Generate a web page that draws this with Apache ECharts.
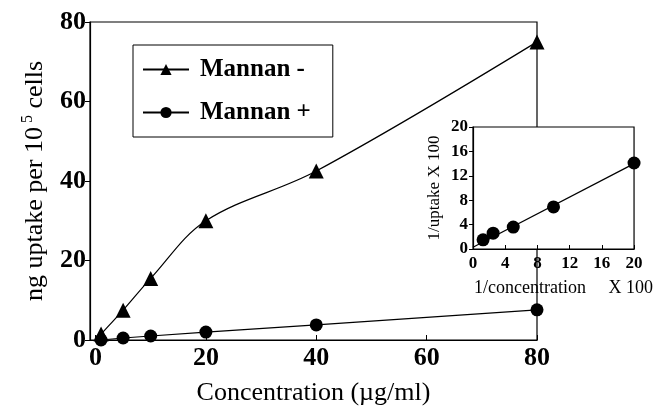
<!DOCTYPE html>
<html>
<head>
<meta charset="utf-8">
<script src="https://cdn.jsdelivr.net/npm/echarts@6/dist/echarts.min.js"></script>
<style>
  html, body { margin: 0; padding: 0; background: #fff; }
  #chart { width: 655px; height: 411px; }
</style>
</head>
<body>
<div id="chart"></div>
<script>
// main plot: uptake vs concentration
const concentration = [1, 5, 10, 20, 40, 80];
const mannanMinus = [1.5, 7.5, 15.5, 30, 42.5, 75];
const mannanPlus = [0, 0.5, 1, 2, 3.8, 7.6];
const mainXTicks = [0, 20, 40, 60, 80];

// inset: double reciprocal plot
const invConc = [1.25, 2.5, 5, 10, 20];
const invUptake = [1.5, 2.6, 3.6, 6.9, 14.1];
const fitX = [0, 20];
const fitY = [0.3, 14.0];

const serif = 'Liberation Serif';
const pairs = (xs, ys) => xs.map((x, i) => [x, ys[i]]);

const chart = echarts.init(document.getElementById('chart'), null, { renderer: 'canvas' });

chart.setOption({
  animation: false,
  backgroundColor: '#fff',
  textStyle: { fontFamily: serif, color: '#000' },
  legend: {
    data: ['Mannan -', 'Mannan +'],
    orient: 'vertical',
    left: 133,
    top: 45,
    padding: [12, 22, 12, 9],
    itemGap: 18,
    itemWidth: 46,
    itemHeight: 14,
    backgroundColor: '#fff',
    borderColor: '#000',
    borderWidth: 1,
    textStyle: { fontFamily: serif, fontWeight: 'bold', fontSize: 25, color: '#000', padding: [0, 0, 0, 6] },
  },
  grid: [
    { left: 90, right: 118, top: 22, bottom: 68, show: true, borderColor: '#000', borderWidth: 1.2, backgroundColor: 'transparent' },
    { left: 473, right: 12, top: 127, bottom: 162, show: true, borderColor: '#000', borderWidth: 1.2, backgroundColor: '#fff', z: 5 },
  ],
  xAxis: [
    {
      type: 'value', gridIndex: 0, min: -1, max: 80,
      axisLine: { show: true, onZero: false, lineStyle: { color: '#000', width: 1.2 } },
      axisTick: { show: true, inside: true, length: 5, customValues: mainXTicks, lineStyle: { color: '#000' } },
      axisLabel: { customValues: mainXTicks, color: '#000', fontFamily: serif, fontWeight: 'bold', fontSize: 26, margin: 5 },
      splitLine: { show: false },
      name: 'Concentration (\u00b5g/ml)',
      nameLocation: 'middle',
      nameGap: 40,
      nameTextStyle: { fontFamily: serif, fontSize: 26, color: '#000' },
    },
    {
      type: 'value', gridIndex: 1, min: 0, max: 20, interval: 4, z: 6,
      axisLine: { show: true, onZero: false, lineStyle: { color: '#000', width: 1.2 } },
      axisTick: { show: true, inside: true, length: 4, lineStyle: { color: '#000' } },
      axisLabel: { color: '#000', fontFamily: serif, fontWeight: 'bold', fontSize: 17, margin: 6 },
      splitLine: { show: false },
      name: '1/concentration     X 100',
      nameLocation: 'middle',
      nameGap: 30,
      nameTextStyle: { fontFamily: serif, fontSize: 18, color: '#000', padding: [0, 0, 0, 20] },
    },
  ],
  yAxis: [
    {
      type: 'value', gridIndex: 0, min: 0, max: 80, interval: 20,
      axisLine: { show: true, onZero: false, lineStyle: { color: '#000', width: 1.2 } },
      axisTick: { show: true, length: 5, lineStyle: { color: '#000' } },
      axisLabel: { color: '#000', fontFamily: serif, fontWeight: 'bold', fontSize: 26, margin: 4 },
      splitLine: { show: false },
      name: '{a|ng uptake per 10}{s| 5}{a| cells}',
      nameLocation: 'middle',
      nameGap: 40,
      nameTextStyle: {
        rich: {
          a: { fontFamily: serif, fontSize: 26, color: '#000', lineHeight: 30 },
          s: { fontFamily: serif, fontSize: 16, color: '#000', lineHeight: 16, verticalAlign: 'top' },
        },
      },
    },
    {
      type: 'value', gridIndex: 1, min: 0, max: 20, interval: 4, z: 6,
      axisLine: { show: true, onZero: false, lineStyle: { color: '#000', width: 1.2 } },
      axisTick: { show: true, length: 4, lineStyle: { color: '#000' } },
      axisLabel: { color: '#000', fontFamily: serif, fontWeight: 'bold', fontSize: 17, margin: 5 },
      splitLine: { show: false },
      name: '1/uptake X 100',
      nameLocation: 'middle',
      nameGap: 30,
      nameTextStyle: { fontFamily: serif, fontSize: 17, color: '#000' },
    },
  ],
  series: [
    {
      name: 'Mannan -', type: 'line', xAxisIndex: 0, yAxisIndex: 0,
      data: pairs(concentration, mannanMinus),
      smooth: 0.35,
      symbol: 'triangle', symbolSize: 15,
      lineStyle: { color: '#000', width: 1.2 },
      itemStyle: { color: '#000' },
    },
    {
      name: 'Mannan +', type: 'line', xAxisIndex: 0, yAxisIndex: 0,
      data: pairs(concentration, mannanPlus),
      symbol: 'circle', symbolSize: 13,
      lineStyle: { color: '#000', width: 1.2 },
      itemStyle: { color: '#000' },
    },
    {
      name: 'fit', type: 'line', xAxisIndex: 1, yAxisIndex: 1, z: 7,
      data: pairs(fitX, fitY),
      symbol: 'none',
      lineStyle: { color: '#000', width: 1.2 },
    },
    {
      name: 'inset', type: 'scatter', xAxisIndex: 1, yAxisIndex: 1, z: 8,
      data: pairs(invConc, invUptake),
      symbol: 'circle', symbolSize: 13,
      itemStyle: { color: '#000', opacity: 1 },
    },
  ],
});
</script>
</body>
</html>
